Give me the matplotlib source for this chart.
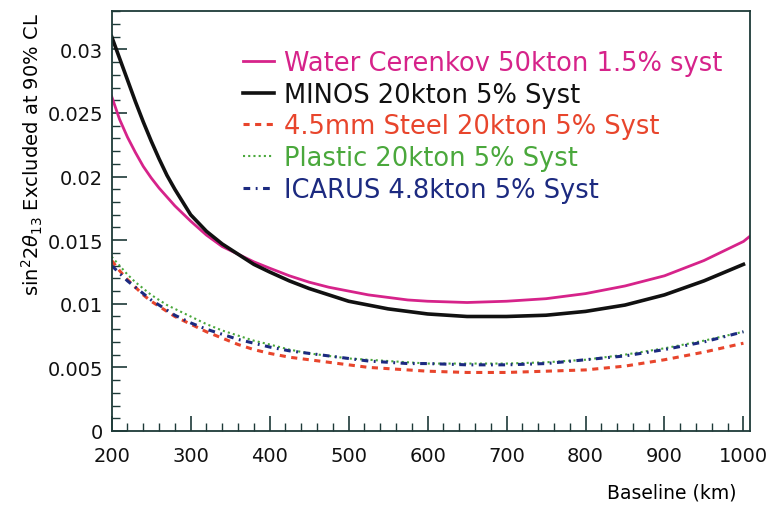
import numpy as np
import matplotlib.pyplot as plt
from matplotlib.ticker import MultipleLocator

nan = np.nan

# Baseline (km) sample points
baseline = [200, 210, 220, 230, 240, 250, 260, 270, 280, 290, 300, 320, 340, 360, 380, 400,
            425, 450, 475, 500, 525, 550, 575, 600, 650, 700, 750, 800, 850, 900, 950, 1000, 1008]

# sin^2 2theta_13 excluded at 90% CL
water = [0.0263, 0.0245, 0.0231, 0.0219, 0.0208, 0.0199, 0.0191, 0.0184, 0.0177, 0.0171, 0.0165,
         0.0154, 0.0145, 0.0139, 0.0133, 0.0128, 0.0122, 0.0117, 0.0113, 0.0110, 0.0107, 0.0105,
         0.0103, 0.0102, 0.0101, 0.0102, 0.0104, 0.0108, 0.0114, 0.0122, 0.0134, 0.0149, 0.0153]
minos = [0.0310, 0.0293, 0.0276, 0.0259, 0.0243, 0.0228, 0.0214, 0.0201, 0.0190, 0.0180, 0.0170,
         0.0157, 0.0147, 0.0139, 0.0131, 0.0125, 0.0118, 0.0112, 0.0107, 0.0102, 0.0099, 0.0096,
         0.0094, 0.0092, 0.0090, 0.0090, 0.0091, 0.0094, 0.0099, 0.0107, 0.0118, 0.0131, nan]
steel = [0.0134, 0.0126, 0.0119, 0.0113, 0.0107, 0.0102, 0.0098, 0.0094, 0.0090, 0.0087, 0.0084,
         0.0078, 0.0073, 0.0068, 0.0064, 0.0061, 0.0058, 0.0056, 0.0054, 0.0052, 0.0050, 0.0049,
         0.0048, 0.0047, 0.0046, 0.0046, 0.0047, 0.0048, 0.0051, 0.0056, 0.0062, 0.0069, nan]
plastic = [0.0137, 0.0130, 0.0123, 0.0117, 0.0112, 0.0107, 0.0103, 0.0099, 0.0096, 0.0093, 0.0090,
           0.0084, 0.0079, 0.0075, 0.0071, 0.0068, 0.0064, 0.0061, 0.0059, 0.0057, 0.0056, 0.0055,
           0.0054, 0.0053, 0.0053, 0.0053, 0.0054, 0.0056, 0.0060, 0.0065, 0.0071, 0.0078, nan]
icarus = [0.0130, 0.0124, 0.0118, 0.0113, 0.0108, 0.0103, 0.0099, 0.0095, 0.0091, 0.0088, 0.0085,
          0.0080, 0.0076, 0.0072, 0.0069, 0.0066, 0.0063, 0.0061, 0.0059, 0.0057, 0.0055, 0.0054,
          0.0053, 0.0053, 0.0052, 0.0052, 0.0053, 0.0056, 0.0059, 0.0064, 0.0070, 0.0078, nan]

labels = ["Water Cerenkov 50kton 1.5% syst",
          "MINOS 20kton 5% Syst",
          "4.5mm Steel 20kton 5% Syst",
          "Plastic 20kton 5% Syst",
          "ICARUS 4.8kton 5% Syst"]

fig = plt.figure(figsize=(7.81, 5.10), dpi=100)
ax = fig.add_axes([0.143, 0.153, 0.817, 0.823])

ax.plot(baseline, water, color='#d6238a', lw=2.0, label=labels[0])
ax.plot(baseline, minos, color='#111111', lw=2.6, label=labels[1])
ax.plot(baseline, steel, color='#e8452c', lw=2.2, linestyle=(0, (2.0, 1.8)), label=labels[2])
ax.plot(baseline, plastic, color='#4aa83c', lw=1.5, linestyle=(0, (1.0, 1.5)), label=labels[3])
ax.plot(baseline, icarus, color='#1c2a80', lw=2.2, linestyle=(0, (2.2, 1.8, 0.6, 1.8)), label=labels[4])

ax.set_xlim(200, 1008)
ax.set_ylim(0, 0.033)
ax.xaxis.set_major_locator(MultipleLocator(100))
ax.xaxis.set_minor_locator(MultipleLocator(20))
ax.yaxis.set_minor_locator(MultipleLocator(0.001))
ax.set_yticks([0, 0.005, 0.01, 0.015, 0.02, 0.025, 0.03])
ax.set_yticklabels(['0', '0.005', '0.01', '0.015', '0.02', '0.025', '0.03'])

edge = '#1e3a38'
for s in ax.spines.values():
    s.set_color(edge)
    s.set_linewidth(1.3)
ax.tick_params(which='both', direction='in', top=False, right=False, colors=edge,
               labelcolor='#111111', labelsize=14)
ax.tick_params(which='major', length=11, width=1.2, pad=6)
ax.tick_params(axis='x', which='major', pad=11)
ax.tick_params(which='minor', length=6, width=1.0)

ax.set_ylabel(r'sin$^2$2$\theta_{13}$ Excluded at 90% CL', fontsize=14)
ax.yaxis.set_label_coords(-0.105, 0.66)
ax.set_xlabel('Baseline (km)', fontsize=13.5, loc='right')
ax.xaxis.set_label_coords(0.98, -0.122)

leg = ax.legend(loc='upper left', bbox_to_anchor=(0.19, 0.932), frameon=False,
                fontsize=18.5, labelcolor='linecolor', handlelength=1.2,
                handletextpad=0.4, labelspacing=0.22, borderaxespad=0)

fig.savefig('out.png', dpi=100)
